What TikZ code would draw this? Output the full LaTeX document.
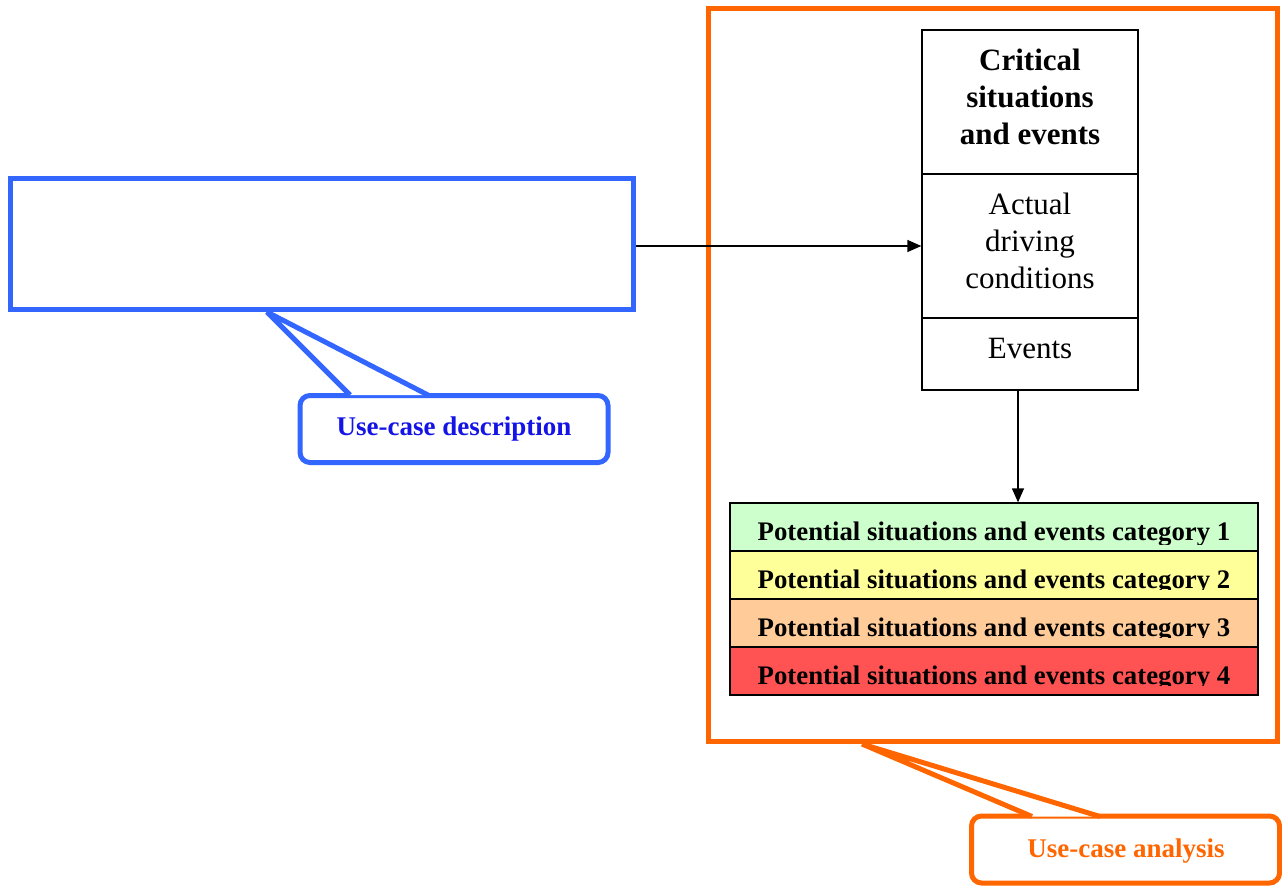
\documentclass[tikz,border=0pt]{standalone}
\usepackage{fontspec}
\setmainfont{Liberation Serif}
\usetikzlibrary{arrows.meta}
\definecolor{calloutblue}{RGB}{51,102,255}
\definecolor{textblue}{RGB}{20,20,230}
\definecolor{frameorange}{RGB}{255,102,0}
\definecolor{catgreen}{RGB}{204,255,204}
\definecolor{catyellow}{RGB}{255,255,153}
\definecolor{catpeach}{RGB}{255,204,153}
\definecolor{catred}{RGB}{255,82,82}
\tikzset{
  x=1pt, y=-1pt,
  descbox/.style={draw=calloutblue, line width=5pt, minimum width=623pt, minimum height=131pt, inner sep=0pt},
  framebox/.style={draw=frameorange, line width=5pt, minimum width=569pt, minimum height=733pt, inner sep=0pt},
  bubble/.style={draw=#1, fill=white, line width=5pt, rounded corners=10pt, minimum width=308pt, minimum height=67pt, inner sep=0pt},
  bubbletext/.style={inner sep=0pt, anchor=base, font=\fontsize{27}{30}\selectfont\bfseries},
  tail/.style={draw=#1, fill=white, line width=5pt, line join=bevel},
  cell/.style={draw, line width=1.3pt, minimum width=216pt, inner sep=0pt},
  celltext/.style={inner sep=0pt, anchor=base, align=center, font=\fontsize{31}{37}\selectfont},
  critfont/.style={font=\fontsize{31}{37}\selectfont\bfseries},
  catrow/.style={draw, line width=1.3pt, fill=#1, minimum width=528pt, minimum height=48pt, inner sep=0pt},
  cattext/.style={inner sep=0pt, anchor=base, font=\fontsize{26.8}{30}\selectfont\bfseries},
  link/.style={line width=1.3pt, -{Triangle[length=14pt,width=12pt]}}
}
\begin{document}
\begin{tikzpicture}
\useasboundingbox (0,0) rectangle (1282,888);

% use-case description box
\node[descbox] (desc) at (322,244) {};

% use-case analysis frame
\node[framebox] (frame) at (993,375) {};

% column of driving situations
\node[cell, minimum height=144pt] (crit) at (1030,102) {};
\node[cell, minimum height=144pt] (adc) at (1030,246) {};
\node[cell, minimum height=72pt] (ev) at (1030,354) {};
\node[celltext, critfont] (critA) at (1030,71) {Critical};
\node[celltext, critfont] (critB) at (1030,108) {situations};
\node[celltext, critfont] (critC) at (1030,144) {and events};
\node[celltext] (adcA) at (1030,214) {Actual};
\node[celltext] (adcB) at (1030,251) {driving};
\node[celltext] (adcC) at (1030,288) {conditions};
\node[celltext] (evA) at (1030,358) {Events};

% categories
\node[catrow=catgreen]  (cat1) at (994,527) {};
\node[catrow=catyellow] (cat2) at (994,575) {};
\node[catrow=catpeach]  (cat3) at (994,623) {};
\node[catrow=catred]    (cat4) at (994,671) {};
\begin{scope}
  \clip (732,505) rectangle (1256,544);
  \node[cattext] (t1) at (994,540) {Potential situations and events category 1};
\end{scope}
\begin{scope}
  \clip (732,553) rectangle (1256,589);
  \node[cattext] (t2) at (994,588) {Potential situations and events category 2};
\end{scope}
\begin{scope}
  \clip (732,601) rectangle (1256,637);
  \node[cattext] (t3) at (994,636) {Potential situations and events category 3};
\end{scope}
\begin{scope}
  \clip (732,649) rectangle (1256,685);
  \node[cattext] (t4) at (994,684) {Potential situations and events category 4};
\end{scope}

% connectors
\draw[link] (desc.east |- adc.west) -- (adc.west);
\draw[link] (ev.south -| 1018,0) -- (cat1.north -| 1018,0);

% callout for the description
\node[bubble=calloutblue] (descnote) at (454,429) {};
\node[bubbletext, text=textblue] (descnotetext) at (454,435) {Use-case description};
\coordinate (descTip) at (267,312);
\filldraw[tail=calloutblue] (350,395) -- (descTip) -- (428,395);

% callout for the analysis
\node[bubble=frameorange] (framenote) at (1125.5,849.5) {};
\node[bubbletext, text=frameorange] (framenotetext) at (1126,857) {Use-case analysis};
\coordinate (frameTip) at (862,744);
\filldraw[tail=frameorange] (1032,816.5) -- (frameTip) -- (1100,816.5);
\end{tikzpicture}
\end{document}
